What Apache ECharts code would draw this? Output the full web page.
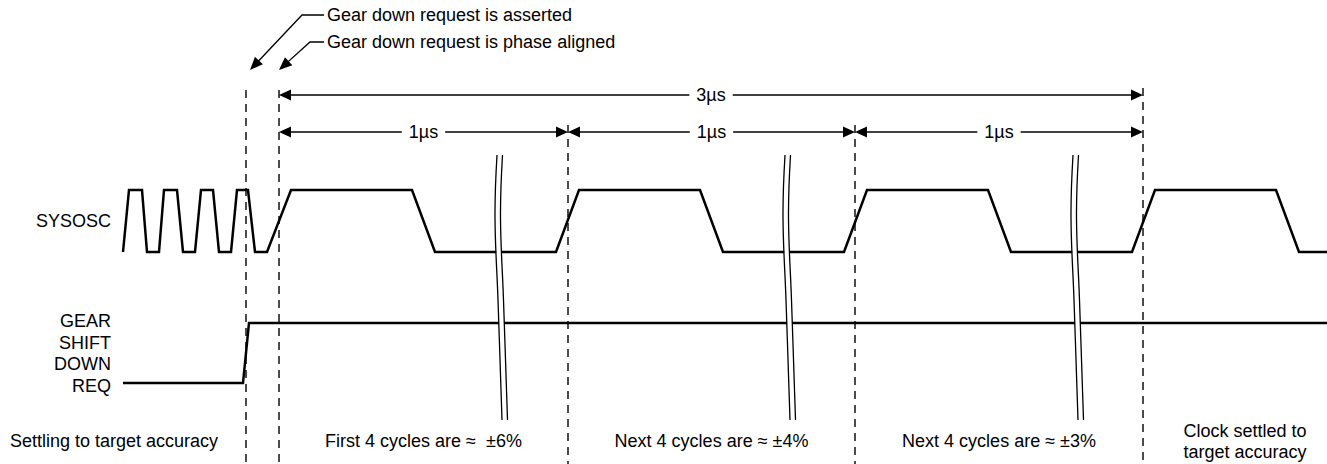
<!DOCTYPE html>
<html>
<head>
<meta charset="utf-8">
<script src="https://cdn.jsdelivr.net/npm/echarts/dist/echarts.min.js"></script>
<style>
html,body{margin:0;padding:0;background:#fff;}
#c{width:1327px;height:464px;}
</style>
</head>
<body>
<div id="c"></div>
<script>
// ---------------- DATA ----------------
// SYSOSC waveform: time positions (px along time axis) and logic level (1 = high, 0 = low)
const sysoscX     = [123,129,142,147,159,164,177,183,195,201,213,219,231,237,248,255,267,291,412,435,556,579,700,723,844,867,988,1011,1132,1155,1276,1299,1327];
const sysoscLevel = [0,  1,  1,  0,  0,  1,  1,  0,  0,  1,  1,  0,  0,  1,  1,  0,  0,  1,  1,  0,  0,  1,  1,  0,  0,  1,  1,  0,   0,   1,   1,   0,   0];
// GEAR SHIFT DOWN REQ waveform
const gearX     = [123,243,249,1327];
const gearLevel = [0,  0,  1,  1];
// Time markers (dashed verticals)
const markerX = [246,279,568,855,1143];
// Dimension spans between markers
const spanFrom = [1,1,2,3];
const spanTo   = [4,2,3,4];
const spanText = ['3µs','1µs','1µs','1µs'];
// Time-axis breaks
const breakX = [497,785,1073];
// Texts
const signalNames = ['SYSOSC','GEAR\nSHIFT\nDOWN\nREQ'];
const phaseLabels = ['Settling to target accuracy','First 4 cycles are ≈  ±6%','Next 4 cycles are ≈ ±4%','Next 4 cycles are ≈ ±3%','Clock settled to\ntarget accuracy'];
const annotations = ['Gear down request is asserted','Gear down request is phase aligned'];

// ---------------- LAYOUT ----------------
const W = 1327, H = 464;
const markerTop = [90,90,125,125,88];
const spanY = [95,132,132,132];
const signalLabelPos = [[111,221],[111,353.5]];
const phaseLabelPos = [[114,441],[423.5,441],[711.5,441],[999,441],[1245,441]];
const annLeader = [[324,302,15,250,70],[324,310,42,279,70]]; // xTextEdge, xBend, y, tipX, tipY
const annTextX = 327;
const breakShape = [[0,155],[-2,217],[1,300],[5,420]];
const breakGap = 5.5;

const FONT = '18px "Liberation Sans", Arial, Helvetica, sans-serif';
const INK = '#000';

function arrowHead(tip, from, len, hw) {
  const dx = tip[0]-from[0], dy = tip[1]-from[1];
  const d = Math.hypot(dx,dy), ux = dx/d, uy = dy/d;
  const bx = tip[0]-ux*len, by = tip[1]-uy*len;
  return {type:'polygon', shape:{points:[[tip[0],tip[1]],[bx-uy*hw,by+ux*hw],[bx+uy*hw,by-ux*hw]]}, style:{fill:INK}};
}

const chart = echarts.init(document.getElementById('c'), null, {renderer:'svg', width:W, height:H});

const option = {
  animation:false,
  backgroundColor:'#fff',
  grid:[
    {left:0,right:0,top:0,bottom:0},
    {left:0,right:0,top:190,height:62},
    {left:0,right:0,top:323,height:60}
  ],
  xAxis:[
    {type:'value',gridIndex:0,min:0,max:W,show:false},
    {type:'value',gridIndex:1,min:0,max:W,show:false},
    {type:'value',gridIndex:2,min:0,max:W,show:false}
  ],
  yAxis:[
    {type:'value',gridIndex:0,min:0,max:H,inverse:true,show:false},
    {type:'value',gridIndex:1,min:0,max:1,show:false},
    {type:'value',gridIndex:2,min:0,max:1,show:false}
  ],
  series:[
    // dashed time markers
    {
      type:'custom', xAxisIndex:0, yAxisIndex:0, z:1, silent:true,
      data: markerX.map((x,i)=>[x, markerTop[i]]),
      renderItem(params, api){
        const p1 = api.coord([api.value(0), api.value(1)]);
        const p2 = api.coord([api.value(0), H]);
        return {type:'line', shape:{x1:p1[0],y1:p1[1],x2:p2[0],y2:p2[1]},
          style:{stroke:INK,lineWidth:1.4,lineDash:[8,6]}};
      }
    },
    // SYSOSC
    {
      type:'line', xAxisIndex:1, yAxisIndex:1, z:3, clip:false, silent:true,
      data: sysoscX.map((x,i)=>[x, sysoscLevel[i]]),
      showSymbol:false, symbol:'none',
      lineStyle:{color:INK,width:2.5,join:'miter',cap:'butt'}
    },
    // GEAR SHIFT DOWN REQ
    {
      type:'line', xAxisIndex:2, yAxisIndex:2, z:3, clip:false, silent:true,
      data: gearX.map((x,i)=>[x, gearLevel[i]]),
      showSymbol:false, symbol:'none',
      lineStyle:{color:INK,width:2.5,join:'miter',cap:'butt'}
    },
    // time-axis breaks
    {
      type:'custom', xAxisIndex:0, yAxisIndex:0, z:5, silent:true,
      data: breakX.map(x=>[x]),
      renderItem(params, api){
        const x0 = api.value(0);
        const left = breakShape.map(p=>api.coord([x0+p[0], p[1]]));
        const right = breakShape.map(p=>api.coord([x0+p[0]+breakGap, p[1]]));
        const mid = breakShape.map(p=>api.coord([x0+p[0]+breakGap/2, p[1]]));
        return {type:'group', children:[
          {type:'polyline', shape:{points:mid, smooth:0.4}, style:{stroke:'#fff',lineWidth:breakGap-0.6,fill:null}},
          {type:'polyline', shape:{points:left, smooth:0.4}, style:{stroke:INK,lineWidth:1.3,fill:null}},
          {type:'polyline', shape:{points:right, smooth:0.4}, style:{stroke:INK,lineWidth:1.3,fill:null}}
        ]};
      }
    },
    // dimension arrows
    {
      type:'custom', xAxisIndex:0, yAxisIndex:0, z:4, silent:true,
      data: spanFrom.map((f,i)=>[markerX[f], markerX[spanTo[i]], spanY[i]]),
      renderItem(params, api){
        const i = params.dataIndex;
        const a = api.coord([api.value(0), api.value(2)]);
        const b = api.coord([api.value(1), api.value(2)]);
        const m = [(a[0]+b[0])/2, a[1]];
        return {type:'group', children:[
          {type:'line', shape:{x1:a[0]+6,y1:a[1],x2:b[0]-6,y2:b[1]}, style:{stroke:INK,lineWidth:1.3}},
          arrowHead(a, b, 12, 5.5),
          arrowHead(b, a, 12, 5.5),
          {type:'text', x:m[0], y:m[1], z2:10, style:{text:spanText[i], font:FONT, fill:INK,
            align:'center', verticalAlign:'middle', backgroundColor:'#fff', padding:[2,7,2,7]}}
        ]};
      }
    },
    // annotations with leaders
    {
      type:'custom', xAxisIndex:0, yAxisIndex:0, z:4, silent:true,
      data: annLeader.map(r=>r.slice()),
      renderItem(params, api){
        const i = params.dataIndex;
        const e = api.coord([api.value(0), api.value(2)]);
        const bnd = api.coord([api.value(1), api.value(2)]);
        const tip = api.coord([api.value(3), api.value(4)]);
        const dx = tip[0]-bnd[0], dy = tip[1]-bnd[1], d = Math.hypot(dx,dy);
        const end = [tip[0]-dx/d*8, tip[1]-dy/d*8];
        const t = api.coord([annTextX, api.value(2)]);
        return {type:'group', children:[
          {type:'polyline', shape:{points:[e,bnd,end]}, style:{stroke:INK,lineWidth:1.3,fill:null}},
          arrowHead(tip, bnd, 13, 5.5),
          {type:'text', x:t[0], y:t[1], style:{text:annotations[i], font:FONT, fill:INK, align:'left', verticalAlign:'middle'}}
        ]};
      }
    },
    // signal names
    {
      type:'custom', xAxisIndex:0, yAxisIndex:0, z:4, silent:true,
      data: signalLabelPos.map(p=>p.slice()),
      renderItem(params, api){
        const p = api.coord([api.value(0), api.value(1)]);
        return {type:'text', x:p[0], y:p[1], style:{text:signalNames[params.dataIndex], font:FONT, fill:INK,
          align:'right', verticalAlign:'middle', lineHeight:21.7}};
      }
    },
    // phase labels
    {
      type:'custom', xAxisIndex:0, yAxisIndex:0, z:4, silent:true,
      data: phaseLabelPos.map(p=>p.slice()),
      renderItem(params, api){
        const p = api.coord([api.value(0), api.value(1)]);
        return {type:'text', x:p[0], y:p[1], style:{text:phaseLabels[params.dataIndex], font:FONT, fill:INK,
          align:'center', verticalAlign:'middle', lineHeight:21}};
      }
    }
  ]
};
chart.setOption(option);
</script>
</body>
</html>
